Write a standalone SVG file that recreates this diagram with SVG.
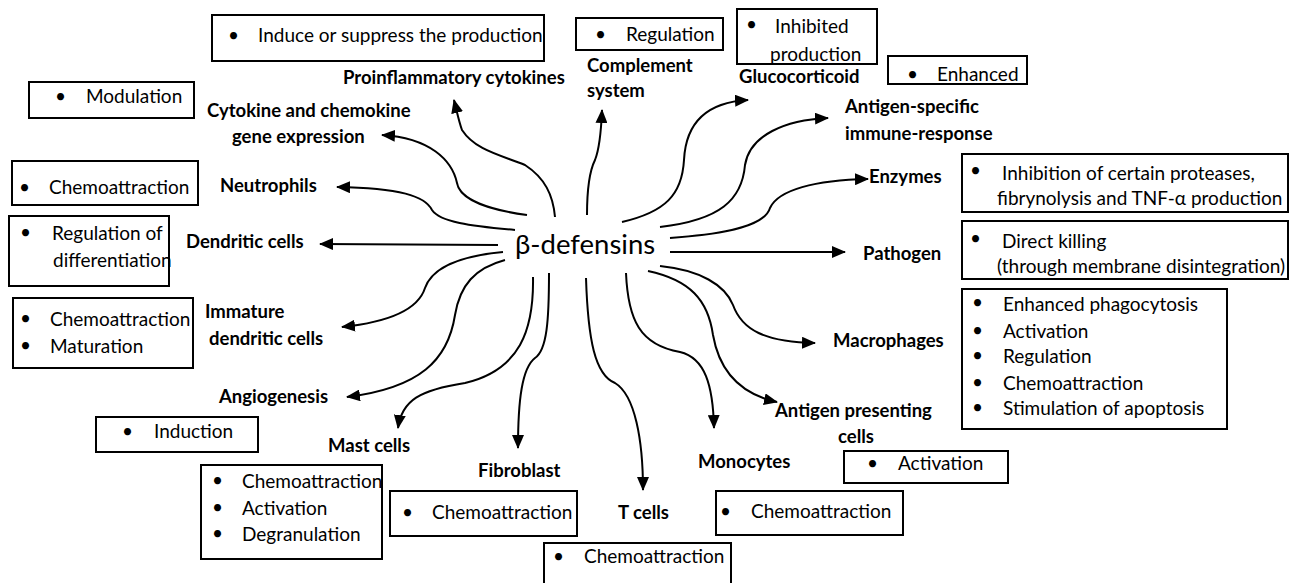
<svg xmlns="http://www.w3.org/2000/svg" width="1293" height="583" viewBox="0 0 1293 583">
<defs>
<marker id="ah" viewBox="0 0 14 12" refX="13" refY="6" markerWidth="14" markerHeight="12" markerUnits="userSpaceOnUse" orient="auto">
<path d="M0,0 L14,6 L0,12 z" fill="#000"/>
</marker>
<style>
.lb{font-family:Lato,"Open Sans","Liberation Sans",sans-serif;font-weight:bold;font-size:18.5px;fill:#000}
.tx{font-family:Lato,"Open Sans","Liberation Sans",sans-serif;font-size:19px;fill:#000}
.ct{font-family:Lato,"Open Sans","Liberation Sans",sans-serif;font-size:27.5px;fill:#000}
.bx{fill:#fff;stroke:#000;stroke-width:2}
.cn{fill:none;stroke:#000;stroke-width:2;marker-end:url(#ah)}
</style>
</defs>
<rect width="1293" height="583" fill="#fff"/>

<g id="connectors">
<path class="cn" d="M555,217 C553,195 545,178 525,165 C500,155 475,150 462,130 C459,122 457,112 454,100"/>
<path class="cn" d="M527,215 C490,210 460,200 457,183 C452,160 430,138 382,135"/>
<path class="cn" d="M515,230 C470,226 440,222 432,210 C425,196 400,188 337,187"/>
<path class="cn" d="M498,245 L320,244"/>
<path class="cn" d="M503,252 C460,256 432,268 425,288 C418,310 390,322 342,327"/>
<path class="cn" d="M505,260 C475,268 460,285 455,315 C448,360 420,388 347,397"/>
<path class="cn" d="M533,277 C534,330 520,370 465,383 C420,390 402,400 398,428"/>
<path class="cn" d="M549,273 C549,320 547,350 535,358 C522,368 518,400 518,448"/>
<path class="cn" d="M586,278 C588,340 595,375 615,383 C635,395 643,440 643,490"/>
<path class="cn" d="M626,273 C628,320 640,345 680,352 C705,358 713,385 714,428"/>
<path class="cn" d="M648,271 C690,280 708,300 713,335 C720,375 745,395 777,402"/>
<path class="cn" d="M660,266 C700,270 725,285 733,305 C742,330 765,342 815,343"/>
<path class="cn" d="M670,252 L845,252"/>
<path class="cn" d="M670,238 C730,234 765,225 770,208 C778,190 815,180 868,179"/>
<path class="cn" d="M660,227 C720,220 742,200 745,165 C750,135 785,120 828,118"/>
<path class="cn" d="M622,222 C665,212 682,195 684,160 C686,120 710,102 748,100"/>
<path class="cn" d="M587,215 C587,190 590,170 595,160 C599,150 601,135 602,110"/>
</g>

<g id="center"><text class="ct" x="515" y="254">β-defensins</text></g>

<g id="proinflammatory">
<rect class="bx" x="212" y="15" width="332" height="46"/>
<text class="tx" x="228" y="42">•</text><text class="tx" x="258" y="42">Induce or suppress the production</text>
<text class="lb" x="343" y="84">Proinflammatory cytokines</text>
</g>
<g id="complement">
<rect class="bx" x="576" y="18" width="147" height="32"/>
<text class="tx" x="595" y="41">•</text><text class="tx" x="626" y="41">Regulation</text>
<text class="lb" x="587" y="72">Complement</text><text class="lb" x="587" y="97">system</text>
</g>
<g id="glucocorticoid">
<rect class="bx" x="737" y="9" width="140" height="55"/>
<text class="tx" x="746" y="31">•</text><text class="tx" x="775" y="33">Inhibited</text><text class="tx" x="770" y="61">production</text>
<text class="lb" x="739" y="83">Glucocorticoid</text>
</g>
<g id="antigen-specific">
<rect class="bx" x="888" y="56" width="139" height="28"/>
<text class="tx" x="907" y="81">•</text><text class="tx" x="937" y="81">Enhanced</text>
<text class="lb" x="845" y="113">Antigen-specific</text><text class="lb" x="845" y="140">immune-response</text>
</g>
<g id="enzymes">
<rect class="bx" x="962" y="154" width="326" height="58"/>
<text class="tx" x="970" y="177">•</text><text class="tx" x="1002" y="180">Inhibition of certain proteases,</text><text class="tx" x="997" y="205">fibrynolysis and TNF-α production</text>
<text class="lb" x="869" y="183">Enzymes</text>
</g>
<g id="pathogen">
<rect class="bx" x="962" y="221" width="326" height="58"/>
<text class="tx" x="970" y="245">•</text><text class="tx" x="1002" y="248">Direct killing</text><text class="tx" x="997" y="273">(through membrane disintegration)</text>
<text class="lb" x="863" y="260">Pathogen</text>
</g>
<g id="macrophages">
<rect class="bx" x="962" y="289" width="265" height="140"/>
<text class="tx" x="972" y="309">•</text><text class="tx" x="1003" y="311">Enhanced phagocytosis</text>
<text class="tx" x="972" y="337">•</text><text class="tx" x="1003" y="338">Activation</text>
<text class="tx" x="972" y="362">•</text><text class="tx" x="1003" y="363">Regulation</text>
<text class="tx" x="972" y="389">•</text><text class="tx" x="1003" y="390">Chemoattraction</text>
<text class="tx" x="972" y="414">•</text><text class="tx" x="1003" y="415">Stimulation of apoptosis</text>
<text class="lb" x="833" y="347">Macrophages</text>
</g>
<g id="apc">
<rect class="bx" x="844" y="451" width="164" height="32"/>
<text class="tx" x="867" y="470">•</text><text class="tx" x="898" y="470">Activation</text>
<text class="lb" x="775" y="417">Antigen presenting</text><text class="lb" x="838" y="443">cells</text>
</g>
<g id="monocytes">
<rect class="bx" x="716" y="491" width="187" height="44"/>
<text class="tx" x="720" y="518">•</text><text class="tx" x="751" y="518">Chemoattraction</text>
<text class="lb" x="698" y="468">Monocytes</text>
</g>
<g id="tcells">
<rect class="bx" x="544" y="543" width="187" height="50"/>
<text class="tx" x="553" y="563">•</text><text class="tx" x="584" y="563">Chemoattraction</text>
<text class="lb" x="618" y="519">T cells</text>
</g>
<g id="fibroblast">
<rect class="bx" x="390" y="491" width="187" height="45"/>
<text class="tx" x="402" y="519">•</text><text class="tx" x="432" y="519">Chemoattraction</text>
<text class="lb" x="478" y="477">Fibroblast</text>
</g>
<g id="mastcells">
<rect class="bx" x="201" y="465" width="181" height="94"/>
<text class="tx" x="212" y="487">•</text><text class="tx" x="242" y="488">Chemoattraction</text>
<text class="tx" x="212" y="514">•</text><text class="tx" x="242" y="515">Activation</text>
<text class="tx" x="212" y="540">•</text><text class="tx" x="242" y="541">Degranulation</text>
<text class="lb" x="328" y="452">Mast cells</text>
</g>
<g id="angiogenesis">
<rect class="bx" x="96" y="417" width="162" height="35"/>
<text class="tx" x="122" y="438">•</text><text class="tx" x="154" y="438">Induction</text>
<text class="lb" x="219" y="403">Angiogenesis</text>
</g>
<g id="immature-dc">
<rect class="bx" x="13" y="298" width="180" height="70"/>
<text class="tx" x="20" y="325">•</text><text class="tx" x="50" y="326">Chemoattraction</text>
<text class="tx" x="20" y="352">•</text><text class="tx" x="50" y="353">Maturation</text>
<text class="lb" x="205" y="318">Immature</text><text class="lb" x="209" y="345">dendritic cells</text>
</g>
<g id="dendritic">
<rect class="bx" x="9" y="216" width="160" height="70"/>
<text class="tx" x="20" y="239">•</text><text class="tx" x="52" y="240">Regulation of</text><text class="tx" x="53" y="267">differentiation</text>
<text class="lb" x="186" y="248">Dendritic cells</text>
</g>
<g id="neutrophils">
<rect class="bx" x="12" y="161" width="186" height="44"/>
<text class="tx" x="19" y="194">•</text><text class="tx" x="49" y="194">Chemoattraction</text>
<text class="lb" x="220" y="192">Neutrophils</text>
</g>
<g id="cytokine-gene">
<rect class="bx" x="29" y="82" width="165" height="36"/>
<text class="tx" x="55" y="103">•</text><text class="tx" x="86" y="103">Modulation</text>
<text class="lb" x="207" y="117">Cytokine and chemokine</text><text class="lb" x="232" y="143">gene expression</text>
</g>
</svg>
